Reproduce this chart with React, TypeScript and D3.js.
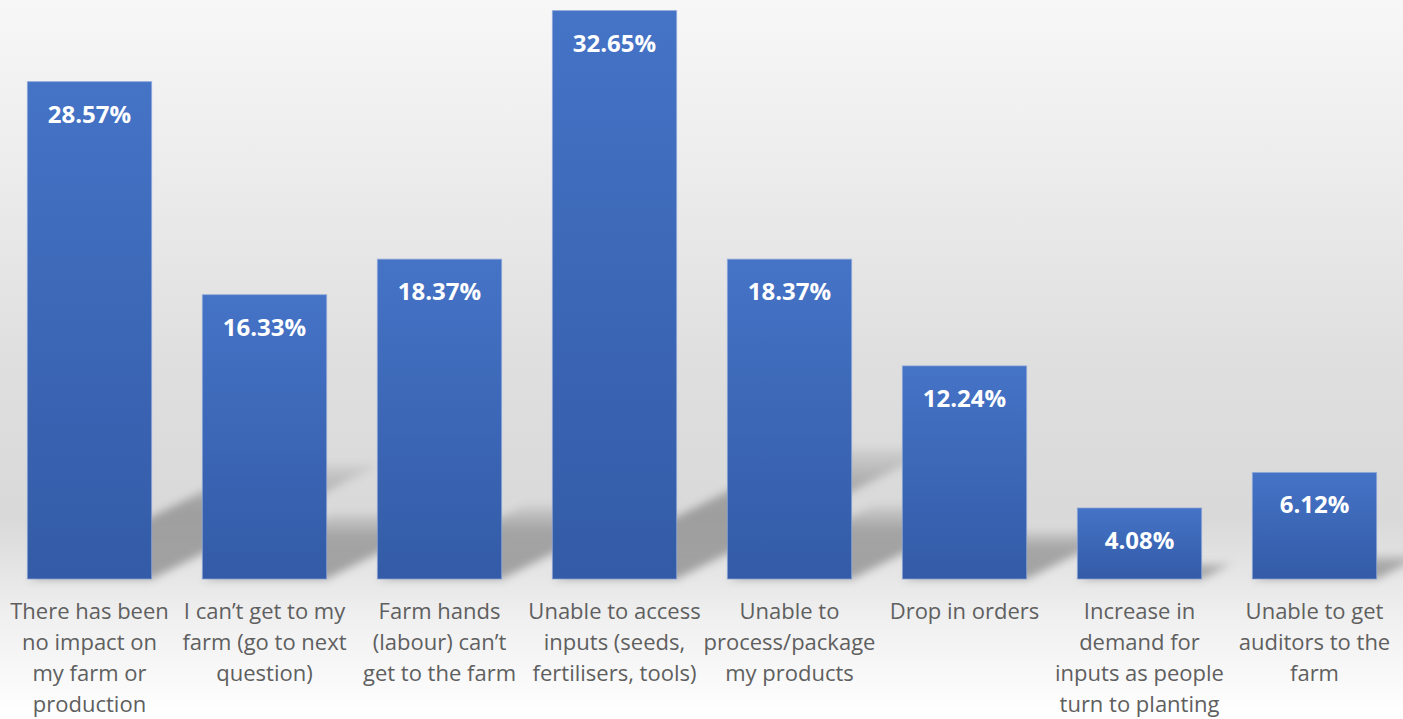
import React from "react";
import * as d3 from "d3";

const categories: string[] = [
  "There has been\nno impact on\nmy farm or\nproduction",
  "I can’t get to my\nfarm (go to next\nquestion)",
  "Farm hands\n(labour) can’t\nget to the farm",
  "Unable to access\ninputs (seeds,\nfertilisers, tools)",
  "Unable to\nprocess/package\nmy products",
  "Drop in orders",
  "Increase in\ndemand for\ninputs as people\nturn to planting",
  "Unable to get\nauditors to the\nfarm",
];
const values: number[] = [28.57, 16.33, 18.37, 32.65, 18.37, 12.24, 4.08, 6.12];
const valueLabels: string[] = ["28.57%", "16.33%", "18.37%", "32.65%", "18.37%", "12.24%", "4.08%", "6.12%"];

const W = 1403;
const H = 719;

export default function App() {
  const x = d3
    .scaleBand<string>()
    .domain(categories)
    .range([2, 1402])
    .paddingInner(0.29)
    .paddingOuter(0.145);
  const y = d3.scaleLinear().domain([0, 33]).range([579, 579 - 33 * 17.41]);
  const y0 = y(0);
  const bw = x.bandwidth();

  const shadowK = 0.23;
  const shadowSlope = 2.0;

  return (
    <div style={{ position: "absolute", left: 0, top: 0 }}>
      <svg width={W} height={H} style={{ display: "block" }}>
        <defs>
          <linearGradient id="bg" x1="0" y1="0" x2="0" y2="1">
            <stop offset="0" stopColor="#f7f7f7" />
            <stop offset="0.2" stopColor="#eeeeee" />
            <stop offset="0.5" stopColor="#dfdfdf" />
            <stop offset="0.72" stopColor="#d9d9d9" />
            <stop offset="0.8" stopColor="#e6e6e6" />
            <stop offset="0.86" stopColor="#f0f0f0" />
            <stop offset="1" stopColor="#ffffff" />
          </linearGradient>
          <linearGradient id="bar" x1="0" y1="0" x2="0" y2="1">
            <stop offset="0" stopColor="#4573c6" />
            <stop offset="1" stopColor="#335ba7" />
          </linearGradient>
          <linearGradient id="shadow" x1="0" y1="1" x2="0" y2="0">
            <stop offset="0" stopColor="#000" stopOpacity="0.3" />
            <stop offset="0.65" stopColor="#000" stopOpacity="0.26" />
            <stop offset="1" stopColor="#000" stopOpacity="0.05" />
          </linearGradient>
          <filter id="blur" x="-50%" y="-50%" width="200%" height="200%">
            <feGaussianBlur stdDeviation="4" />
          </filter>
        </defs>
        <rect x={0} y={0} width={W} height={H} fill="url(#bg)" />
        <g>
          {categories.map((c, i) => {
            const x0 = x(c)!;
            const x1 = x0 + bw;
            const h = y0 - y(values[i]);
            const kh = h * shadowK;
            const s = kh * shadowSlope;
            const pts = [
              [x0, y0],
              [x1, y0],
              [x1 + s, y0 - kh],
              [x0 + s, y0 - kh],
            ]
              .map((p) => p.join(","))
              .join(" ");
            return <polygon key={"s" + i} points={pts} fill="url(#shadow)" filter="url(#blur)" />;
          })}
        </g>
        <g>
          {categories.map((c, i) => (
            <rect
              key={"b" + i}
              x={x(c)!}
              y={y(values[i])}
              width={bw}
              height={y0 - y(values[i])}
              fill="url(#bar)"
              stroke="#8ea6d8"
              strokeOpacity={0.7}
              strokeWidth={1}
            />
          ))}
        </g>
        <g>
          {categories.map((c, i) => (
            <text
              key={"v" + i}
              x={x(c)! + bw / 2}
              y={y(values[i]) + 41}
              textAnchor="middle"
              fill="#ffffff"
              fontFamily="'Open Sans', sans-serif"
              fontWeight={700}
              fontSize={24}
            >
              {valueLabels[i]}
            </text>
          ))}
        </g>
        <g>
          {categories.map((c, i) => (
            <text
              key={"c" + i}
              textAnchor="middle"
              fill="#5f5f5f"
              fontFamily="'Open Sans', sans-serif"
              fontSize={22}
            >
              {c.split("\n").map((line, j) => (
                <tspan key={j} x={x(c)! + bw / 2} y={619 + j * 31}>
                  {line}
                </tspan>
              ))}
            </text>
          ))}
        </g>
      </svg>
    </div>
  );
}
